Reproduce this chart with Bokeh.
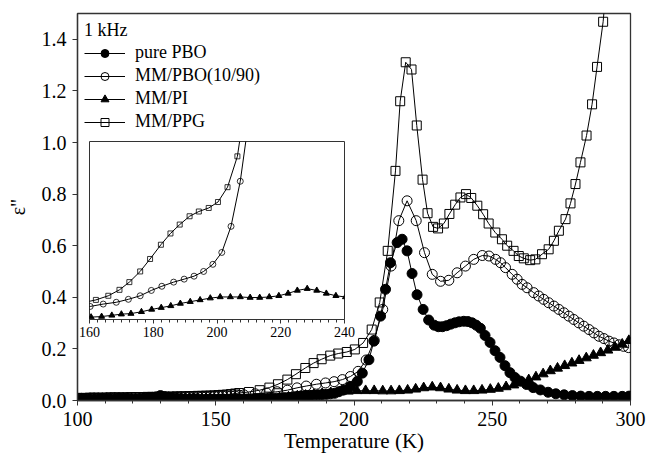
from bokeh.plotting import figure
from bokeh.models import Range1d, Legend, LegendItem, GridBox, FixedTicker, PrintfTickFormatter
from bokeh.embed import file_html
from bokeh.resources import INLINE

FONT = "Liberation Serif"

# ---------------- data ----------------
series_names = ["pure PBO", "MM/PBO(10/90)", "MM/PI", "MM/PPG"]

# dense low-temperature measurement grid (shared by all four series)
low_T = [100, 101.5, 103, 104.5, 106, 107.5, 109, 110.5, 112, 113.5, 115, 116.5, 118, 119.5, 121, 122.5,
         124, 125.5, 127, 128.5, 130, 131.5, 133, 134.5, 136, 137.5, 139, 140.5, 142, 143.5, 145, 146.5,
         148, 149.5, 151, 152.5, 154, 155.5, 157, 158.5]

pbo_low = [0.005, 0.004, 0.006, 0.005, 0.004, 0.006, 0.007, 0.005, 0.006, 0.004, 0.008, 0.006, 0.007, 0.005,
           0.005, 0.006, 0.008, 0.009, 0.010, 0.014, 0.019, 0.015, 0.012, 0.009, 0.008, 0.007, 0.006, 0.005,
           0.007, 0.006, 0.004, 0.005, 0.006, 0.004, 0.005, 0.006, 0.004, 0.005, 0.006, 0.005]
pbo_T = [160, 161.5, 163, 164.5, 166, 167.5, 169, 170.5, 172, 173.5, 175, 176.5, 178, 179.5, 181, 182.5, 184,
         185.5, 187, 188.5, 190, 191.5, 193, 194.5, 196.3, 198.7, 201.2, 203.0, 205.4, 207.2,
         209.6, 211.4, 213.2, 215.6, 217.4, 219.2, 221.0, 222.8, 225.0, 227.0, 229.0, 230.5, 232.0, 233.5,
         235.0, 236.5, 238.0, 239.7, 241.2, 242.7, 244.2, 245.7, 247.4, 249.2, 251.0, 252.8, 254.6, 256.4,
         258.2, 260.2, 262.4, 264.8, 267.4, 270.2, 273.0, 276.0, 279.0, 282.0, 285.0, 288.0, 291.0, 294.0,
         297.0, 299.5]
pbo_v = [0.005, 0.006, 0.005, 0.007, 0.006, 0.007, 0.008, 0.008, 0.009, 0.010, 0.011, 0.012, 0.014, 0.016,
         0.018, 0.019, 0.020, 0.021, 0.022, 0.023, 0.024, 0.026, 0.028, 0.034, 0.041, 0.054, 0.074, 0.106,
         0.158, 0.230, 0.327, 0.431, 0.534, 0.612,
         0.625, 0.580, 0.492, 0.410, 0.353, 0.312, 0.292, 0.286, 0.286, 0.290, 0.296, 0.301, 0.305, 0.307,
         0.306, 0.301, 0.292, 0.280, 0.252, 0.225, 0.193, 0.167, 0.135, 0.108, 0.089, 0.075, 0.062, 0.050,
         0.041, 0.032, 0.026, 0.022, 0.019, 0.017, 0.016, 0.016, 0.016, 0.016, 0.016, 0.017]

p10_low = [0.008, 0.008, 0.008, 0.009, 0.009, 0.009, 0.009, 0.010, 0.010, 0.010, 0.010, 0.010, 0.011, 0.011,
           0.011, 0.011, 0.012, 0.012, 0.012, 0.012, 0.012, 0.013, 0.013, 0.013, 0.013, 0.014, 0.014, 0.014,
           0.014, 0.015, 0.015, 0.015, 0.016, 0.016, 0.017, 0.017, 0.018, 0.018, 0.019, 0.020]
p10_T = [160.2, 164.3, 168.4, 172.2, 175.9, 179.4, 182.7, 186.4, 189.7, 192.8, 195.8, 198.7, 201.5, 204.4,
         207.3, 210.4, 213.4, 216.2, 219.2, 222.5, 225.5, 228.3, 231.3, 234.3, 237.3, 240.3, 243.3, 246.4,
         248.8, 251.2, 253.0, 254.8, 257.2, 259.0, 260.8, 262.6, 265.0, 266.8, 268.6, 270.4, 272.3, 274.1,
         275.9, 277.7, 279.5, 281.3, 283.1, 285.0, 286.8, 288.6, 290.4, 292.2, 294.0, 295.8, 297.5, 299.3]
p10_v = [0.022, 0.026, 0.029, 0.034, 0.040, 0.049, 0.056, 0.063, 0.068, 0.073, 0.081, 0.093, 0.113, 0.157,
         0.233, 0.353, 0.521, 0.697, 0.774, 0.697, 0.573, 0.489, 0.462, 0.466, 0.495, 0.521, 0.547, 0.562,
         0.560, 0.547, 0.534, 0.515, 0.489, 0.470, 0.450, 0.437, 0.418, 0.405, 0.392, 0.379, 0.366, 0.353,
         0.340, 0.327, 0.314, 0.301, 0.288, 0.275, 0.262, 0.249, 0.240, 0.230, 0.223, 0.216, 0.210, 0.205]

pi_low = [0.004, 0.004, 0.005, 0.004, 0.004, 0.005, 0.004, 0.004, 0.004, 0.005, 0.004, 0.004, 0.004, 0.005,
          0.004, 0.004, 0.004, 0.005, 0.004, 0.004, 0.005, 0.004, 0.004, 0.004, 0.005, 0.004, 0.004, 0.004,
          0.005, 0.004, 0.004, 0.004, 0.005, 0.004, 0.004, 0.004, 0.005, 0.004, 0.004, 0.004]
pi_T = [160.5, 163.8, 167.0, 170.0, 173.0, 176.3, 179.5, 182.5, 185.5, 188.5, 191.6, 194.7, 197.9, 201.0,
        204.2, 207.3, 210.4, 213.4, 216.4, 219.4, 222.3, 225.2, 228.3, 231.3, 234.3, 237.3, 240.3, 243.3,
        246.3, 249.3, 252.2, 255.0, 257.8, 260.5, 263.2, 265.8, 268.4, 271.0, 273.6, 276.2, 278.8, 281.4,
        284.0, 286.6, 289.2, 291.8, 294.4, 297.0, 299.4]
pi_v = [0.004, 0.005, 0.007, 0.009, 0.010, 0.013, 0.017, 0.020, 0.023, 0.027, 0.030, 0.033, 0.036, 0.038,
        0.038, 0.038, 0.037, 0.037, 0.038, 0.040, 0.044, 0.049, 0.052, 0.049, 0.044, 0.040, 0.038, 0.038,
        0.040, 0.043, 0.047, 0.053, 0.060, 0.069, 0.080, 0.091, 0.103, 0.115, 0.125, 0.135, 0.145, 0.155,
        0.165, 0.175, 0.185, 0.195, 0.206, 0.218, 0.232]

ppg_low = [0.010, 0.010, 0.010, 0.011, 0.011, 0.011, 0.011, 0.011, 0.012, 0.012, 0.012, 0.012, 0.012, 0.013,
           0.013, 0.013, 0.013, 0.014, 0.014, 0.014, 0.014, 0.015, 0.015, 0.015, 0.016, 0.016, 0.016, 0.017,
           0.017, 0.018, 0.018, 0.019, 0.019, 0.020, 0.021, 0.022, 0.023, 0.025, 0.027, 0.029]
ppg_T = [162.0, 165.9, 169.4, 172.5, 175.9, 179.0, 182.4, 185.4, 188.3, 191.4, 194.3, 197.4, 200.3, 203.3,
         206.4, 209.3, 212.2, 215.0, 216.7, 218.7, 220.8, 222.7, 224.8, 226.6, 228.6, 230.4, 232.5, 234.5,
         236.6, 238.5, 240.5, 242.4, 244.6, 246.7, 248.7, 251.1, 253.5, 255.4, 257.7, 259.6, 261.4, 263.7,
         265.6, 268.0, 270.4, 272.3, 274.1, 276.5, 278.3, 280.1, 281.9, 284.1, 286.1, 287.9, 290.1, 292.0]
ppg_v = [0.033, 0.040, 0.050, 0.063, 0.081, 0.102, 0.126, 0.145, 0.160, 0.174, 0.182, 0.188, 0.198, 0.223,
         0.275, 0.380, 0.580, 0.890, 1.160, 1.311, 1.283, 1.066, 0.856, 0.726, 0.673, 0.667, 0.686, 0.723,
         0.759, 0.787, 0.800, 0.785, 0.755, 0.722, 0.686, 0.651, 0.625, 0.600, 0.580, 0.560, 0.551, 0.544,
         0.547, 0.567, 0.586, 0.619, 0.658, 0.703, 0.764, 0.839, 0.923, 1.027, 1.148, 1.293, 1.468, 1.700]

main_xticks = [100, 150, 200, 250, 300]
main_xminor = [110, 120, 130, 140, 160, 170, 180, 190, 210, 220, 230, 240, 260, 270, 280, 290]
main_yticks = [0.0, 0.2, 0.4, 0.6, 0.8, 1.0, 1.2, 1.4]
inset_xticks = [160, 180, 200, 220, 240]
inset_xminor = [162.5, 165, 167.5, 170, 172.5, 175, 177.5, 182.5, 185, 187.5, 190, 192.5, 195, 197.5,
                202.5, 205, 207.5, 210, 212.5, 215, 217.5, 222.5, 225, 227.5, 230, 232.5, 235, 237.5]

# full series
s1_T, s1_v = low_T + pbo_T, pbo_low + pbo_v
s2_T, s2_v = low_T + p10_T, p10_low + p10_v
s3_T, s3_v = low_T + pi_T, pi_low + pi_v
s4_T, s4_v = low_T + ppg_T, ppg_low + ppg_v

AX = "#333333"

# ---------------- main figure ----------------
main = figure(width=646, height=458, x_range=Range1d(100, 300), y_range=Range1d(0, 1.5),
              output_backend="svg", toolbar_location=None,
              min_border_left=77, min_border_right=16, min_border_top=13, min_border_bottom=58)
main.grid.visible = False
main.outline_line_color = AX
main.outline_line_width = 1.3

for ax in (main.xaxis[0], main.yaxis[0]):
    ax.axis_line_color = AX
    ax.axis_line_width = 1.3
    ax.major_tick_line_color = AX
    ax.minor_tick_line_color = AX
    ax.major_tick_in = 0
    ax.major_tick_out = 5
    ax.minor_tick_in = 0
    ax.minor_tick_out = 3
    ax.major_label_text_font = FONT
    ax.major_label_text_font_size = "20px"
    ax.major_label_text_color = "black"
    ax.axis_label_text_font = FONT
    ax.axis_label_text_font_style = "normal"
    ax.axis_label_text_color = "black"

main.xaxis.ticker = FixedTicker(ticks=main_xticks, minor_ticks=main_xminor)
main.yaxis.ticker = FixedTicker(ticks=main_yticks)
main.yaxis.minor_tick_line_color = None
main.yaxis.formatter = PrintfTickFormatter(format="%.1f")
main.xaxis.axis_label = "Temperature (K)"
main.xaxis.axis_label_text_font_size = "21px"
main.xaxis.major_label_standoff = 6
main.xaxis.axis_label_standoff = 0
main.yaxis.axis_label = 'ε"'
main.yaxis.axis_label_text_font_size = "20px"
main.yaxis.major_label_standoff = 6
main.yaxis.axis_label_standoff = 10

r_l1 = main.line(s1_T, s1_v, line_color="black", line_width=1)
r_m1 = main.scatter(s1_T, s1_v, marker="circle", size=10, fill_color="black", line_color="black")
r_l2 = main.line(s2_T, s2_v, line_color="black", line_width=1)
r_m2 = main.scatter(s2_T, s2_v, marker="circle", size=10, fill_alpha=0, line_color="black", line_width=1)
r_l3 = main.line(s3_T, s3_v, line_color="black", line_width=1)
r_m3 = main.scatter(s3_T, s3_v, marker="triangle", size=10, fill_color="black", line_color="black")
r_l4 = main.line(s4_T, s4_v, line_color="black", line_width=1)
r_m4 = main.scatter(s4_T, s4_v, marker="square", size=9, fill_alpha=0, line_color="black", line_width=1)

legend = Legend(items=[LegendItem(label=series_names[0], renderers=[r_l1, r_m1]),
                       LegendItem(label=series_names[1], renderers=[r_l2, r_m2]),
                       LegendItem(label=series_names[2], renderers=[r_l3, r_m3]),
                       LegendItem(label=series_names[3], renderers=[r_l4, r_m4])],
                location="top_left", title="1 kHz",
                title_text_font=FONT, title_text_font_size="18px", title_text_font_style="normal",
                title_text_color="black",
                label_text_font=FONT, label_text_font_size="18px", label_text_color="black",
                border_line_alpha=0, background_fill_alpha=0,
                padding=0, margin=7, spacing=2, glyph_width=41, glyph_height=20,
                label_height=20, label_standoff=10, title_standoff=1)
main.add_layout(legend)

# ---------------- inset figure ----------------
inset = figure(width=279, height=204, x_range=Range1d(160, 240), y_range=Range1d(0, 0.3),
               output_backend="svg", toolbar_location=None, y_axis_location=None,
               min_border_left=12, min_border_right=12, min_border_top=2, min_border_bottom=24)
inset.grid.visible = False
inset.border_fill_alpha = 0
inset.background_fill_color = "white"
inset.outline_line_color = AX
inset.outline_line_width = 1
ix = inset.xaxis[0]
ix.ticker = FixedTicker(ticks=inset_xticks, minor_ticks=inset_xminor)
ix.axis_line_color = AX
ix.major_tick_line_color = AX
ix.minor_tick_line_color = AX
ix.major_tick_in = 0
ix.major_tick_out = 4
ix.minor_tick_in = 0
ix.minor_tick_out = 3
ix.major_label_text_font = FONT
ix.major_label_text_font_size = "14px"
ix.major_label_text_color = "black"
ix.major_label_standoff = 3

inset.line(s2_T, s2_v, line_color="black", line_width=1)
inset.scatter(s2_T, s2_v, marker="circle", size=6, fill_alpha=0, line_color="black", line_width=0.8)
inset.line(s3_T, s3_v, line_color="black", line_width=1)
inset.scatter(s3_T, s3_v, marker="triangle", size=6, fill_color="black", line_color="black")
inset.line(s4_T, s4_v, line_color="black", line_width=1)
inset.scatter(s4_T, s4_v, marker="square", size=5, fill_alpha=0, line_color="black", line_width=0.8)

page = GridBox(children=[(main, 0, 0, 3, 3), (inset, 1, 1)], spacing=0,
               rows=["139px", "204px", "115px"], cols=["77px", "279px", "290px"])

open("out.html", "w").write(file_html(page, INLINE))
